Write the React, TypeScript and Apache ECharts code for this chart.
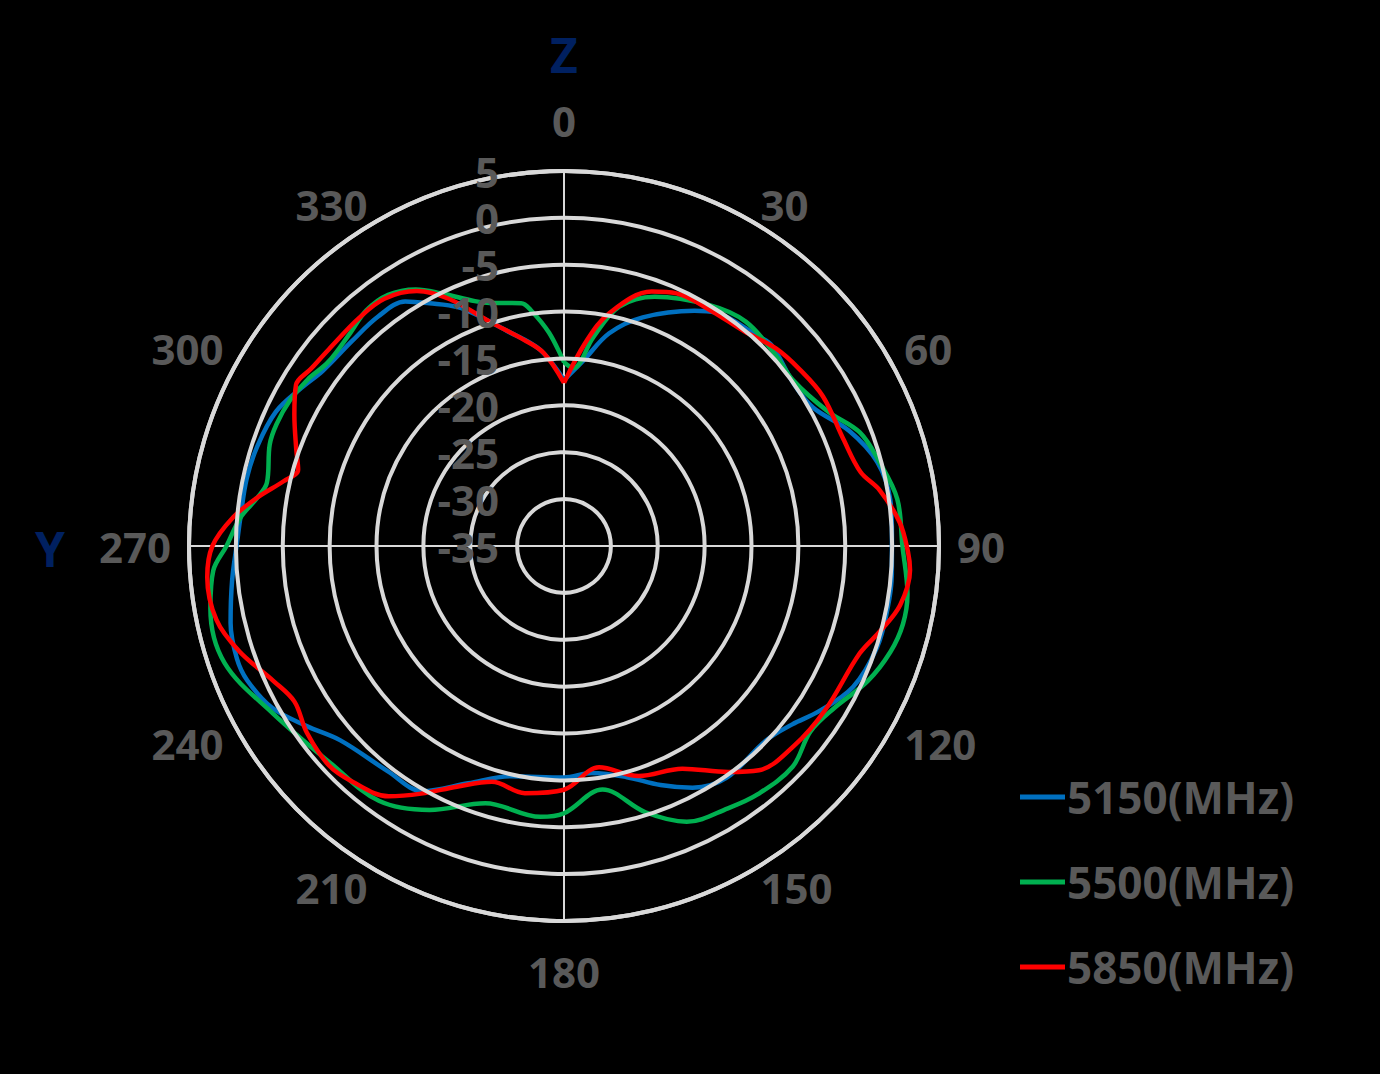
import React, { useEffect, useRef } from 'react';
import * as echarts from 'echarts';

// Radial scale (dB) and angle ticks (degrees)
const radiusMin = -35;
const radiusMax = 5;
const radiusStep = 5;
const angleStep = 30;

const seriesNames = ['5150(MHz)', '5500(MHz)', '5850(MHz)'];
const seriesColors = ['#0070C0', '#00B050', '#FF0000'];

// 5150 MHz
const angles5150 = [0, 6, 12, 19, 29, 33, 43, 46, 55, 61, 68, 75, 82, 88, 95, 101, 108, 116, 123, 128, 134, 145, 152, 158, 165, 173, 180, 193, 202, 210, 218, 229, 235, 241, 247, 251, 257, 264, 271, 275, 282, 288, 295, 301, 306, 314, 321, 327, 331, 336, 340, 345, 353, 360];
const gain5150 = [-17.3, -15.1, -11.8, -9.2, -6.3, -5.3, -4.5, -4.2, -5.0, -4.6, -2.2, -0.4, 0.15, 0.0, 0.1, 0.15, 0.1, -0.7, -2.6, -4.1, -5.1, -4.8, -5.8, -7.5, -9.5, -10.6, -10.3, -9.8, -7.7, -4.8, -4.5, -3.4, -1.5, 0.6, 1.7, 1.9, 1.5, 0.6, -0.15, -0.35, -0.4, -0.6, -1.1, -2.3, -3.2, -3.55, -3.5, -3.9, -5.4, -7.1, -9.0, -11.2, -13.9, -17.3];

// 5500 MHz
const angles5500 = [0, 3, 8, 13, 20, 31, 39, 48, 54, 63, 69, 75, 82, 90, 98, 103, 108, 114, 121, 127, 134, 142, 148, 156, 163, 171, 180, 185, 197, 207, 216, 227, 240, 251, 260, 266, 270, 275, 279, 282, 289, 293, 298, 303, 308, 315, 320, 325, 330, 334, 340, 343, 350, 352, 356, 360];
const gain5500 = [-15.4, -16.0, -12.5, -8.8, -6.7, -5.0, -4.2, -4.6, -4.85, -3.4, -1.2, -0.2, 0.9, 1.1, 2.0, 2.1, 1.6, 0.45, -1.4, -2.1, -1.1, -1.4, -2.0, -2.8, -5.3, -8.7, -6.5, -6.0, -6.3, -3.4, -1.4, -1.0, 0.8, 3.3, 3.3, 2.5, 1.0, -0.35, -1.9, -2.6, -1.8, -1.7, -1.9, -2.4, -3.1, -2.8, -2.2, -2.3, -3.4, -5.0, -7.2, -7.9, -8.7, -9.6, -12.2, -15.4];

// 5850 MHz
const angles5850 = [0, 6, 11, 19, 24, 32, 40, 47, 53, 60, 69, 76, 80, 86, 91, 94, 100, 105, 110, 122, 131, 139, 144, 152, 162, 171, 180, 189, 197, 204, 210, 215, 222, 227, 234, 240, 245, 252, 258, 265, 270, 275, 279, 283, 286, 290, 296, 301, 305, 310, 318, 324, 330, 335, 342, 349, 354, 360];
const gain5850 = [-17.6, -13.2, -9.7, -6.3, -5.5, -5.4, -5.1, -4.1, -3.6, -3.1, -3.1, -2.4, -0.8, 0.9, 1.7, 2.0, 1.4, -0.05, -1.45, -2.1, -2.5, -3.3, -5.2, -8.1, -9.2, -11.1, -9.0, -8.3, -8.7, -6.9, -4.5, -2.4, -1.2, -0.7, -1.1, -1.8, -0.85, 1.4, 2.9, 3.2, 2.5, 0.4, -1.9, -4.3, -5.5, -4.6, -3.0, -1.65, -2.05, -2.3, -2.3, -2.4, -3.6, -5.9, -9.95, -12.6, -14.3, -17.6];

const allAngles = [angles5150, angles5500, angles5850];
const allGains = [gain5150, gain5500, gain5850];

const FONT = '"Open Sans", "Liberation Sans", sans-serif';
const GRID = '#D9D9D9';
const LABEL = '#595959';
const NAVY = '#002060';

export default function App() {
  const ref = useRef<HTMLDivElement>(null);
  useEffect(() => {
    if (!ref.current) return;
    const chart = echarts.init(ref.current, null, { renderer: 'svg' });
    const center = [564, 546];
    const radius = 375;
    const labelFont = { color: LABEL, fontSize: 42, fontWeight: 'bold' as const, fontFamily: FONT };
    const series: any[] = seriesNames.map((name, i) => ({
      type: 'line',
      name,
      coordinateSystem: 'polar',
      polarIndex: 0,
      data: allAngles[i].map((a, k) => [allGains[i][k], a]),
      symbol: 'none',
      smooth: 0.35,
      lineStyle: { color: seriesColors[i], width: 4.5 },
      itemStyle: { color: seriesColors[i] },
      z: 10 + i,
    }));
    chart.setOption({
      animation: false,
      backgroundColor: '#000000',
      textStyle: { fontFamily: FONT },
      polar: [
        { center, radius },
        { center, radius },
      ],
      angleAxis: [
        {
          polarIndex: 0,
          type: 'value',
          min: 0,
          max: 360,
          interval: angleStep,
          startAngle: 90,
          clockwise: true,
          axisLine: { show: true, lineStyle: { color: GRID, width: 4 } },
          axisTick: { show: false },
          splitLine: { show: false },
          axisLabel: {
            show: true,
            margin: 18,
            ...labelFont,
            lineHeight: 2,
            formatter: (v: number) =>
              v === 360 ? '' : v === 0 ? '{top|0}' : v === 180 ? '{bot|180}' : String(v),
            rich: {
              top: { ...labelFont, lineHeight: 66 },
              bot: { ...labelFont, lineHeight: 64 },
            },
          },
        },
        {
          polarIndex: 1,
          type: 'value',
          min: 0,
          max: 360,
          interval: 90,
          startAngle: 90,
          clockwise: true,
          axisLine: { show: false },
          axisTick: { show: false },
          axisLabel: { show: false },
          splitLine: { show: true, lineStyle: { color: GRID, width: 2 } },
        },
      ],
      radiusAxis: [
        {
          polarIndex: 0,
          type: 'value',
          min: radiusMin,
          max: radiusMax,
          interval: radiusStep,
          axisLine: { show: false },
          axisTick: { show: false },
          splitLine: { show: true, lineStyle: { color: GRID, width: 4 } },
          axisLabel: {
            show: true,
            margin: 65,
            ...labelFont,
            lineHeight: 36,
          },
          z: 20,
        },
        {
          polarIndex: 1,
          type: 'value',
          min: radiusMin,
          max: radiusMax,
          interval: radiusStep,
          axisLine: { show: false },
          axisTick: { show: false },
          splitLine: { show: false },
          axisLabel: { show: false },
        },
      ],
      legend: {
        orient: 'vertical',
        left: 1020,
        top: 772,
        padding: 0,
        icon: 'rect',
        itemWidth: 45,
        itemHeight: 5,
        itemGap: 35,
        data: seriesNames,
        textStyle: {
          color: LABEL,
          fontSize: 44,
          fontWeight: 'bold',
          fontFamily: FONT,
          lineHeight: 50,
          padding: [0, 0, 0, -3],
        },
      },
      graphic: [
        {
          type: 'text',
          x: 564,
          y: 54,
          style: {
            text: 'Z',
            fill: NAVY,
            font: `bold 48px ${FONT}`,
            textAlign: 'center',
            textVerticalAlign: 'middle',
          },
        },
        {
          type: 'text',
          x: 50,
          y: 548,
          style: {
            text: 'Y',
            fill: NAVY,
            font: `bold 48px ${FONT}`,
            textAlign: 'center',
            textVerticalAlign: 'middle',
          },
        },
      ],
      series,
    });
    return () => chart.dispose();
  }, []);
  return (
    <div
      ref={ref}
      style={{ position: 'absolute', left: 0, top: 0, width: 1380, height: 1074, background: '#000' }}
    />
  );
}
